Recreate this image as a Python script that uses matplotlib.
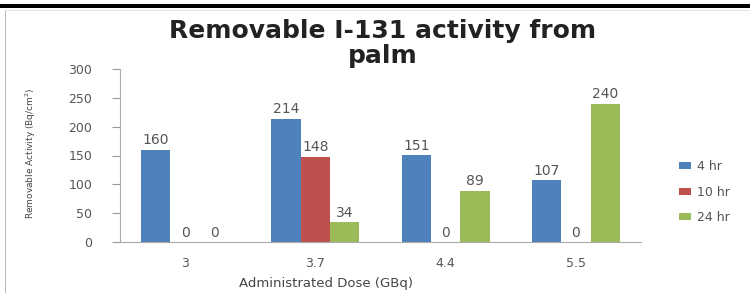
import numpy as np
import matplotlib.pyplot as plt
from matplotlib.patches import Rectangle

# data
doses = ['3', '3.7', '4.4', '5.5']
series = ['4 hr', '10 hr', '24 hr']
act_4hr = [160, 214, 151, 107]
act_10hr = [0, 148, 0, 0]
act_24hr = [0, 34, 89, 240]
colors = ['#4F81BD', '#C0504D', '#9BBB59']

plt.rcParams['font.family'] = ['DejaVu Sans']

fig = plt.figure(figsize=(7.5, 2.93), dpi=100)
W, H = 750, 293

# page rule at the top and frame edges
fig.add_artist(Rectangle((0, 1 - 7.5 / H), 1, 3 / H, transform=fig.transFigure,
                         facecolor='black', edgecolor='none'))
fig.add_artist(Rectangle((5 / W, 0), 1.5 / W, 1 - 10 / H, transform=fig.transFigure,
                         facecolor='#BBBBBB', edgecolor='none'))
fig.add_artist(Rectangle((5 / W, 1 - 11 / H), 1, 1 / H, transform=fig.transFigure,
                         facecolor='#E2E2E2', edgecolor='none'))

ax = fig.add_axes([120 / W, 51 / H, 521 / W, 173 / H])

x = np.arange(len(doses))
w = 0.225
for i, (vals, c) in enumerate(zip([act_4hr, act_10hr, act_24hr], colors)):
    pos = x + (i - 1) * w
    ax.bar(pos, vals, w, color=c, label=series[i], zorder=2)
    for p, v in zip(pos, vals):
        ax.text(p, v + 4, str(v), ha='center', va='bottom', fontsize=10,
                color='#555555')

ax.set_xlim(-0.5, len(doses) - 0.5)
ax.set_ylim(0, 300)
ax.set_yticks(range(0, 301, 50))
ax.set_xticks(x)
ax.set_xticklabels(doses)
ax.tick_params(axis='y', direction='out', length=6, color='#999999',
               labelsize=9, labelcolor='#555555', pad=14)
ax.tick_params(axis='x', length=0, labelsize=9, labelcolor='#555555', pad=11)
for s in ['top', 'right']:
    ax.spines[s].set_visible(False)
for s in ['left', 'bottom']:
    ax.spines[s].set_color('#AAAAAA')

fig.text(326 / W, 1 - 283 / H, 'Administrated Dose (GBq)', ha='center',
         va='center', fontsize=9.5, color='#444444')
fig.text(31 / W, 1 - 153 / H, 'Removable Activity (Bq/cm$^{2}$)', rotation=90,
         ha='center', va='center', fontsize=6.5, color='#444444')

fig.text(383 / W, 1 - 31 / H, 'Removable I-131 activity from',
         ha='center', va='center', fontsize=18, fontweight='bold', color='#222222')
fig.text(383 / W, 1 - 56 / H, 'palm',
         ha='center', va='center', fontsize=18, fontweight='bold', color='#222222')

fig.legend(loc='center left', bbox_to_anchor=(668 / W, 1 - 192 / H),
           frameon=False, fontsize=9, handlelength=0.9, handleheight=0.5,
           labelspacing=1.0, handletextpad=0.5, labelcolor='#555555')

fig.savefig('out.png', dpi=100)
